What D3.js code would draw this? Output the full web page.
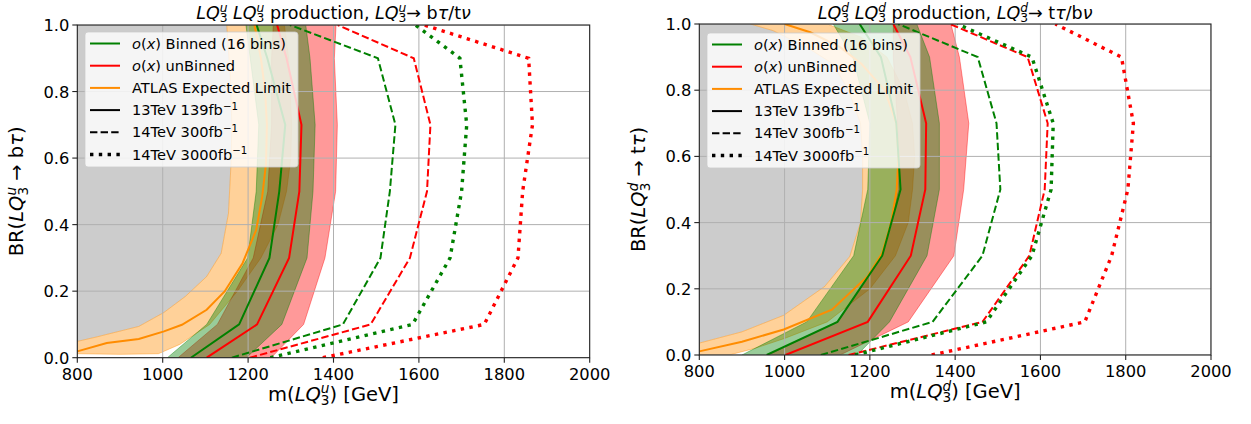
<!DOCTYPE html>
<html>
<head>
<meta charset="utf-8">
<script src="https://cdn.jsdelivr.net/npm/d3@7"></script>
<style>
  body { margin: 0; background: #fff; }
  text { font-family: "DejaVu Sans", sans-serif; fill: #000; }
</style>
</head>
<body>
<svg id="chart" width="1251" height="424"></svg>
<script>
// BR values where the scan points sit
var brGrid = [0, 0.1, 0.3, 0.5, 0.7, 0.9, 1.0];

var xTicks = [800, 1000, 1200, 1400, 1600, 1800, 2000];
var yTicks = [0, 0.2, 0.4, 0.6, 0.8, 1.0];

// ---- LQ3u panel (masses in GeV at each brGrid value)
var uBinned13 = [1066, 1179, 1250, 1273, 1287, 1245, 1220];
var uUnbinned13 = [1103, 1221, 1296, 1320, 1325, 1290, 1268];
var uBinnedLo = [1011, 1103, 1199, 1219, 1225, 1205, 1195];
var uBinnedHi = [1196, 1279, 1338, 1352, 1357, 1345, 1335];
var uUnbinnedLo = [1036, 1128, 1212, 1246, 1255, 1255, 1259];
var uUnbinnedHi = [1254, 1330, 1380, 1405, 1409, 1402, 1406];
var uBinned300 = [1162, 1422, 1510, 1532, 1545, 1504, 1298];
var uUnbinned300 = [1204, 1487, 1579, 1619, 1627, 1588, 1410];
var uBinned3000 = [1252, 1585, 1673, 1700, 1712, 1696, 1592];
var uUnbinned3000 = [1375, 1753, 1832, 1843, 1866, 1857, 1612];
// ATLAS expected limit [mass, BR]
var uAtlas = [[800,0.019],[869,0.044],[944,0.056],[1003,0.079],[1045,0.099],[1103,0.144],[1145,0.199],[1187,0.284],[1219,0.384],[1233,0.484],[1242,0.584],[1244,0.7],[1240,0.8],[1230,0.9],[1215,1.0]];
var uAtlasInner = [[800,0.049],[844,0.062],[944,0.094],[1003,0.136],[1053,0.184],[1103,0.244],[1137,0.314],[1154,0.434],[1160,0.584],[1162,0.7],[1158,0.85],[1150,1.0]];
var uAtlasOuter = [[800,0.012],[900,0.010],[990,0.012],[1040,0.04],[1110,0.1],[1175,0.2],[1230,0.3],[1270,0.4],[1290,0.5],[1300,0.6],[1302,0.7],[1295,0.9],[1285,1.0]];

// ---- LQ3d panel
var dBinned13 = [958, 1124, 1229, 1272, 1262, 1226, 1176];
var dUnbinned13 = [1002, 1195, 1296, 1330, 1332, 1295, 1255];
var dBinnedLo = [900, 1052, 1162, 1195, 1200, 1160, 1114];
var dBinnedHi = [1170, 1246, 1334, 1363, 1363, 1340, 1310];
var dUnbinnedLo = [960, 1124, 1229, 1268, 1265, 1255, 1255];
var dUnbinnedHi = [1130, 1290, 1397, 1420, 1432, 1410, 1390];
var dBinned300 = [1085, 1347, 1464, 1506, 1497, 1453, 1266];
var dUnbinned300 = [1150, 1464, 1574, 1610, 1617, 1570, 1388];
var dBinned3000 = [1165, 1473, 1580, 1625, 1630, 1580, 1405];
var dUnbinned3000 = [1345, 1704, 1767, 1805, 1818, 1790, 1635];
var dAtlas = [[800,0.011],[900,0.04],[998,0.077],[1111,0.137],[1195,0.238],[1229,0.308],[1250,0.40],[1263,0.50],[1267,0.60],[1262,0.7],[1235,0.8],[1180,0.88],[1130,0.93],[1060,0.975],[1000,1.0]];
var dAtlasInner = [[800,0.036],[900,0.07],[998,0.12],[1094,0.207],[1153,0.298],[1178,0.40],[1183,0.5],[1183,0.6],[1178,0.7],[1150,0.8],[1113,0.88],[1052,0.93],[973,0.98],[920,1.0]];
var dAtlasOuter = [[800,0.0],[870,0.0],[930,0.02],[1000,0.05],[1100,0.1],[1200,0.2],[1260,0.3],[1290,0.4],[1300,0.5],[1305,0.6],[1300,0.7],[1280,0.8],[1240,0.9],[1180,0.96],[1100,1.0]];

var GREEN = "#008000", RED = "#ff0000", ORANGE = "#ff8c00";

var svg = d3.select("#chart");

// rich text: segments {t, it, sub, sup, back}
function rich(textSel, segs, size) {
  var shift = 0;
  segs.forEach(function (s) {
    var ts = textSel.append("tspan").text(s.t);
    var newShift = 0, fs = size;
    if (s.sub) { newShift = 0.22 * size; fs = 0.7 * size; }
    if (s.sup) { newShift = -0.38 * size; fs = 0.7 * size; }
    if (newShift != shift) ts.attr("dy", newShift - shift);
    shift = newShift;
    if (fs != size) ts.style("font-size", fs + "px");
    if (s.it) ts.style("font-style", "italic");
    if (s.back) ts.attr("dx", -0.636 * 0.7 * size);
  });
}

function lq(q) {
  return [{t: "LQ", it: true}, {t: "3", sub: true}, {t: q, it: true, sup: true, back: true}];
}

function drawPanel(p) {
  var x = d3.scaleLinear().domain([800, 2000]).range([p.left, p.right]);
  var y = d3.scaleLinear().domain([0, 1]).range([p.bottom, p.top]);
  var line = d3.line().x(function (d) { return x(d[0]); }).y(function (d) { return y(d[1]); });

  function zip(ms) { return ms.map(function (m, i) { return [m, brGrid[i]]; }); }
  function band(lo, hi) { return zip(lo).concat(zip(hi).reverse()); }

  svg.append("clipPath").attr("id", "clip" + p.id)
    .append("rect").attr("x", p.left).attr("y", p.top)
    .attr("width", p.right - p.left).attr("height", p.bottom - p.top);

  var plot = svg.append("g").attr("clip-path", "url(#clip" + p.id + ")");

  // excluded region (grey)
  var grey = [[800, 1.0]].concat(p.atlasInner);
  plot.append("path").attr("d", line(grey) + "Z")
    .attr("fill", "#808080").attr("fill-opacity", 0.4);

  function fillBand(pts, col) {
    plot.append("path").attr("d", line(pts) + "Z")
      .attr("fill", col).attr("fill-opacity", 0.4)
      .attr("stroke", col).attr("stroke-opacity", 0.4).attr("stroke-width", 1);
  }
  fillBand(p.atlasInner.concat(p.atlasOuter.slice().reverse()), ORANGE);
  fillBand(band(p.unbinnedLo, p.unbinnedHi), RED);
  fillBand(band(p.binnedLo, p.binnedHi), GREEN);

  // grid
  plot.selectAll("line.gx").data(xTicks).enter().append("line")
    .attr("x1", function (d) { return x(d); }).attr("x2", function (d) { return x(d); })
    .attr("y1", p.top).attr("y2", p.bottom)
    .attr("stroke", "#b0b0b0").attr("stroke-width", 1);
  plot.selectAll("line.gy").data(yTicks).enter().append("line")
    .attr("y1", function (d) { return y(d); }).attr("y2", function (d) { return y(d); })
    .attr("x1", p.left).attr("x2", p.right)
    .attr("stroke", "#b0b0b0").attr("stroke-width", 1);

  function curve(pts, col, style) {
    var path = plot.append("path").attr("d", line(pts))
      .attr("fill", "none").attr("stroke", col);
    if (style == "dash") path.attr("stroke-width", 2).attr("stroke-dasharray", "7.4,3.2");
    else if (style == "dot") path.attr("stroke-width", 3.4).attr("stroke-dasharray", "3.4,5.4");
    else path.attr("stroke-width", 2);
  }
  curve(p.atlas, ORANGE, "solid");
  curve(zip(p.binned13), GREEN, "solid");
  curve(zip(p.unbinned13), RED, "solid");
  curve(zip(p.unbinned300), RED, "dash");
  curve(zip(p.binned300), GREEN, "dash");
  curve(zip(p.unbinned3000), RED, "dot");
  curve(zip(p.binned3000), GREEN, "dot");

  // frame
  svg.append("rect").attr("x", p.left).attr("y", p.top)
    .attr("width", p.right - p.left).attr("height", p.bottom - p.top)
    .attr("fill", "none").attr("stroke", "#222").attr("stroke-width", 1.1);

  // ticks
  xTicks.forEach(function (t) {
    svg.append("line").attr("x1", x(t)).attr("x2", x(t)).attr("y1", p.bottom).attr("y2", p.bottom + 5)
      .attr("stroke", "#222").attr("stroke-width", 1.1);
    svg.append("text").attr("x", x(t)).attr("y", p.bottom + 22)
      .attr("text-anchor", "middle").style("font-size", "16.3px").text(t);
  });
  yTicks.forEach(function (t) {
    svg.append("line").attr("x1", p.left - 5).attr("x2", p.left).attr("y1", y(t)).attr("y2", y(t))
      .attr("stroke", "#222").attr("stroke-width", 1.1);
    svg.append("text").attr("x", p.left - 8).attr("y", y(t) + 6)
      .attr("text-anchor", "end").style("font-size", "16.3px").text(t.toFixed(1));
  });

  var cx = (p.left + p.right) / 2;
  // title
  var title = svg.append("text").attr("x", cx).attr("y", 18.5).attr("text-anchor", "middle").style("font-size", "17.5px");
  rich(title, lq(p.q).concat([{t: " "}], lq(p.q), [{t: " production, "}], lq(p.q),
    [{t: "\u2192 " + p.f1[0]}, {t: p.f1[1], it: true}, {t: "/" + p.f2[0]}, {t: p.f2[1], it: true}]), 17.5);

  // axis labels
  var xl = svg.append("text").attr("x", cx).attr("y", p.bottom + 43).attr("text-anchor", "middle").style("font-size", "19.5px");
  rich(xl, [{t: "m("}].concat(lq(p.q), [{t: ") [GeV]"}]), 19.5);

  var yl = svg.append("text").attr("transform", "translate(" + (p.left - 54) + "," + ((p.top + p.bottom) / 2) + ") rotate(-90)")
    .attr("text-anchor", "middle").style("font-size", "19.5px");
  rich(yl, [{t: "BR("}].concat(lq(p.q), [{t: " \u2192 " + p.f1[0]}, {t: p.f1[1], it: true}, {t: ")"}]), 19.5);

  // legend
  var leg = svg.append("g").attr("transform", "translate(" + p.legX + "," + p.legY + ")");
  leg.append("rect").attr("width", 213).attr("height", 135).attr("rx", 3)
    .attr("fill", "#fff").attr("fill-opacity", 0.8)
    .attr("stroke", "#cccccc").attr("stroke-opacity", 0.8);
  var items = [
    {col: GREEN, st: "solid", lab: [{t: "o", it: true}, {t: "("}, {t: "x", it: true}, {t: ") Binned (16 bins)"}]},
    {col: RED, st: "solid", lab: [{t: "o", it: true}, {t: "("}, {t: "x", it: true}, {t: ") unBinned"}]},
    {col: ORANGE, st: "solid", lab: [{t: "ATLAS Expected Limit"}]},
    {col: "#000", st: "solid", lab: [{t: "13TeV 139fb"}, {t: "\u22121", sup: true}]},
    {col: "#000", st: "dash", lab: [{t: "14TeV 300fb"}, {t: "\u22121", sup: true}]},
    {col: "#000", st: "dot", lab: [{t: "14TeV 3000fb"}, {t: "\u22121", sup: true}]}
  ];
  items.forEach(function (it, i) {
    var yy = 11.5 + i * 22.2;
    var l = leg.append("line").attr("x1", 5).attr("x2", 35).attr("y1", yy).attr("y2", yy)
      .attr("stroke", it.col);
    if (it.st == "dash") l.attr("stroke-width", 2).attr("stroke-dasharray", "7.4,3.2");
    else if (it.st == "dot") l.attr("stroke-width", 3.4).attr("stroke-dasharray", "3.4,5.4");
    else l.attr("stroke-width", 2);
    var tx = leg.append("text").attr("x", 47).attr("y", yy + 5).style("font-size", "14.6px");
    rich(tx, it.lab, 14.6);
  });
}

drawPanel({
  id: "u", q: "u", left: 77.3, right: 589.7, top: 25, bottom: 357.7,
  f1: ["b", "\u03c4"], f2: ["t", "\u03bd"],
  binned13: uBinned13, unbinned13: uUnbinned13,
  binnedLo: uBinnedLo, binnedHi: uBinnedHi, unbinnedLo: uUnbinnedLo, unbinnedHi: uUnbinnedHi,
  binned300: uBinned300, unbinned300: uUnbinned300, binned3000: uBinned3000, unbinned3000: uUnbinned3000,
  atlas: uAtlas, atlasInner: uAtlasInner, atlasOuter: uAtlasOuter,
  legX: 85, legY: 32
});

drawPanel({
  id: "d", q: "d", left: 699.3, right: 1211, top: 24, bottom: 355,
  f1: ["t", "\u03c4"], f2: ["b", "\u03bd"],
  binned13: dBinned13, unbinned13: dUnbinned13,
  binnedLo: dBinnedLo, binnedHi: dBinnedHi, unbinnedLo: dUnbinnedLo, unbinnedHi: dUnbinnedHi,
  binned300: dBinned300, unbinned300: dUnbinned300, binned3000: dBinned3000, unbinned3000: dUnbinned3000,
  atlas: dAtlas, atlasInner: dAtlasInner, atlasOuter: dAtlasOuter,
  legX: 707, legY: 33
});
</script>
</body>
</html>
